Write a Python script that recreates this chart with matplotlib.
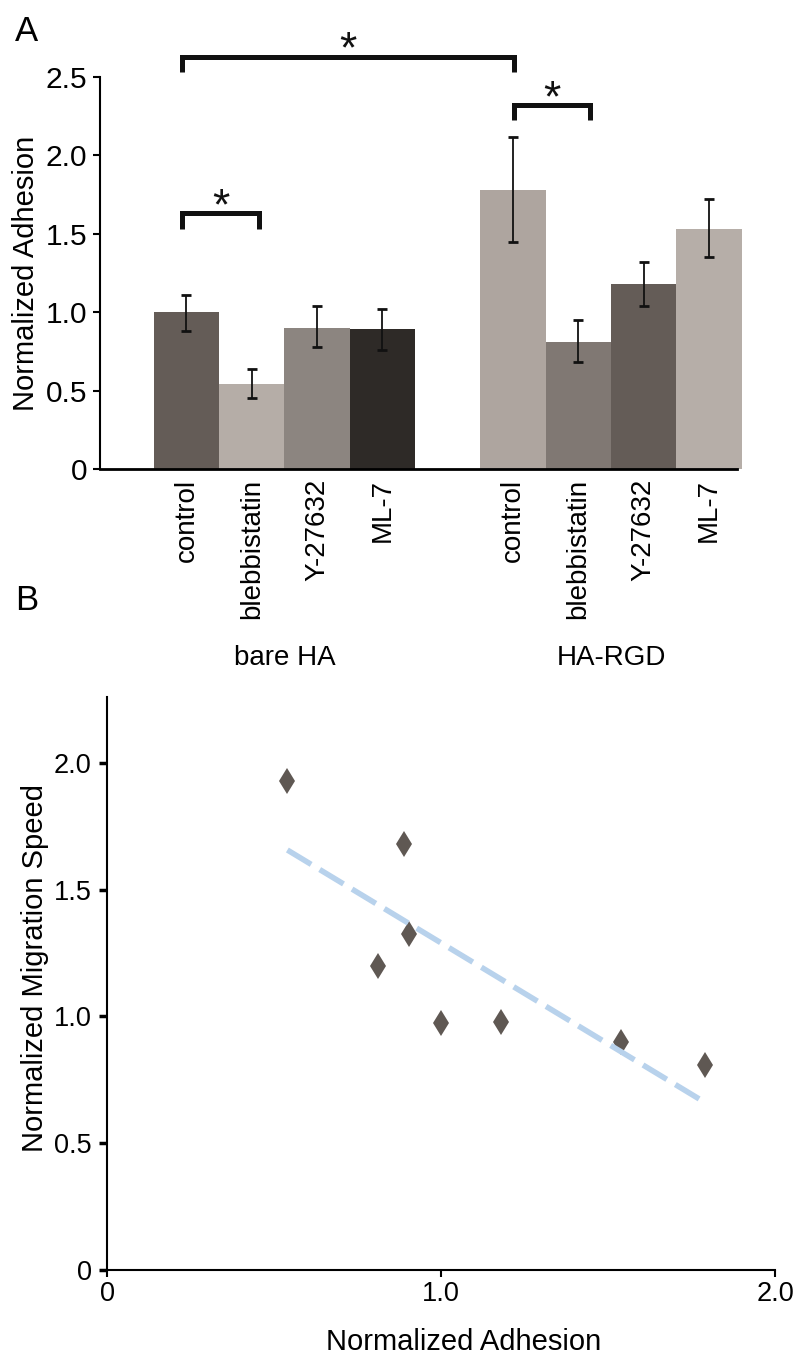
import matplotlib
matplotlib.use('Agg')
import matplotlib.pyplot as plt
import numpy as np

plt.rcParams['font.family'] = ['Liberation Sans', 'DejaVu Sans']

# Panel A - adhesion per treatment, two substrates
groups = ['bare HA', 'HA-RGD']
treatments = ['control', 'blebbistatin', 'Y-27632', 'ML-7']
adhesion = [[1.00, 0.54, 0.90, 0.89], [1.78, 0.81, 1.18, 1.53]]
err_low = [[0.88, 0.45, 0.78, 0.76], [1.45, 0.68, 1.04, 1.35]]
err_high = [[1.11, 0.64, 1.04, 1.02], [2.12, 0.95, 1.32, 1.72]]
bar_colors = [['#645c57', '#b5ada7', '#8c8580', '#2e2a27'],
              ['#aea59f', '#807873', '#645c57', '#b6aea8']]

# significance brackets: (bar i, bar j, bracket height)
sig_pairs = [(0, 4, 2.63), (4, 5, 2.32), (0, 1, 1.63)]
bracket_pad = [(-0.07, 0.02), (0.02, 0.18), (-0.07, 0.11)]

# Panel B - migration speed vs adhesion
adh_b = [0.54, 0.89, 0.905, 0.81, 1.00, 1.18, 1.54, 1.79]
speed = [1.93, 1.68, 1.325, 1.20, 0.975, 0.98, 0.90, 0.81]

fig = plt.figure(figsize=(8.01, 13.59), dpi=100)

# ---------- A ----------
ax = fig.add_axes([0.1248, 0.6549, 0.801, 0.2885])
pos = []
for g in range(len(groups)):
    for k in range(len(treatments)):
        pos.append(g * (len(treatments) + 1) + k)
vals = [v for row in adhesion for v in row]
lo = [v - l for row_v, row_l in zip(adhesion, err_low) for v, l in zip(row_v, row_l)]
hi = [h - v for row_v, row_h in zip(adhesion, err_high) for v, h in zip(row_v, row_h)]
cols = [c for row in bar_colors for c in row]

ax.bar(pos, vals, width=1.0, color=cols, clip_on=False, zorder=1)
ax.errorbar(pos, vals, yerr=[lo, hi], fmt='none', ecolor='#111111',
            elinewidth=1.3, capsize=3.5, capthick=2, zorder=2)

ax.set_xlim(-1.325, 8.5)
ax.set_ylim(0, 2.5)
ax.spines['top'].set_visible(False)
ax.spines['right'].set_visible(False)
ax.spines['bottom'].set_bounds(-1.325, 8.43)
ax.spines['left'].set_linewidth(1.5)
ax.spines['bottom'].set_linewidth(2)

ax.set_yticks([0, 0.5, 1.0, 1.5, 2.0, 2.5])
ax.set_yticklabels(['0', '0.5', '1.0', '1.5', '2.0', '2.5'])
ax.tick_params(axis='y', labelsize=21.5, length=5, width=1.5, pad=4)
ax.set_xticks(pos)
ax.set_xticklabels(treatments * len(groups), rotation=90)
ax.tick_params(axis='x', labelsize=20, length=0, pad=7)

ax.set_ylabel('Normalized Adhesion', fontsize=21)
ax.yaxis.set_label_coords(-0.093, 0.5)

for g, name in enumerate(groups):
    gx = np.mean(pos[g * len(treatments):(g + 1) * len(treatments)])
    ax.text(gx, -0.482, name, transform=ax.get_xaxis_transform(),
            ha='center', va='center', fontsize=20)

drop = 0.097
for (i, j, top), (p0, p1) in zip(sig_pairs, bracket_pad):
    x0 = pos[i] + p0
    x1 = pos[j] + p1
    ax.plot([x0, x0, x1, x1], [top - drop, top, top, top - drop],
            color='#111111', lw=3.6, solid_joinstyle='miter',
            solid_capstyle='butt', clip_on=False)
    ax.text((x0 + x1) / 2, top + 0.165, '*', ha='center', va='top',
            fontsize=32, color='#111111', clip_on=False)

# ---------- B ----------
bx = fig.add_axes([0.1336, 0.0655, 0.834, 0.4216])
bx.plot(adh_b, speed, linestyle='none', marker='d', markersize=13,
        color='#5f5853', markeredgewidth=0, zorder=2)
coef = np.polyfit(adh_b, speed, 1)
xs = np.array([min(adh_b), max(adh_b)])
bx.plot(xs, np.polyval(coef, xs), color='#b8d2ec', lw=4, dashes=(5, 1.8),
        zorder=3)

bx.set_xlim(0, 2.0)
bx.set_ylim(0, 2.26)
bx.spines['top'].set_visible(False)
bx.spines['right'].set_visible(False)
bx.spines['left'].set_linewidth(1.5)
bx.spines['bottom'].set_linewidth(1.5)
bx.set_xticks([0, 1.0, 2.0])
bx.set_xticklabels(['0', '1.0', '2.0'])
bx.set_yticks([0, 0.5, 1.0, 1.5, 2.0])
bx.set_yticklabels(['0', '0.5', '1.0', '1.5', '2.0'])
bx.tick_params(axis='y', labelsize=19.5, length=6, width=2.5, pad=5)
bx.tick_params(axis='x', labelsize=19.5, length=5, width=1.5, pad=3)

bx.set_ylabel('Normalized Migration Speed', fontsize=21)
bx.yaxis.set_label_coords(-0.087, 0.527)
bx.set_xlabel('Normalized Adhesion', fontsize=21)
bx.xaxis.set_label_coords(0.534, -0.101)

fig.text(15 / 801, 1 - 15 / 1359, 'A', fontsize=25, ha='left', va='top')
fig.text(15 / 801, 1 - 584 / 1359, 'B', fontsize=25, ha='left', va='top')

fig.savefig('out.png', dpi=100, facecolor='white')
